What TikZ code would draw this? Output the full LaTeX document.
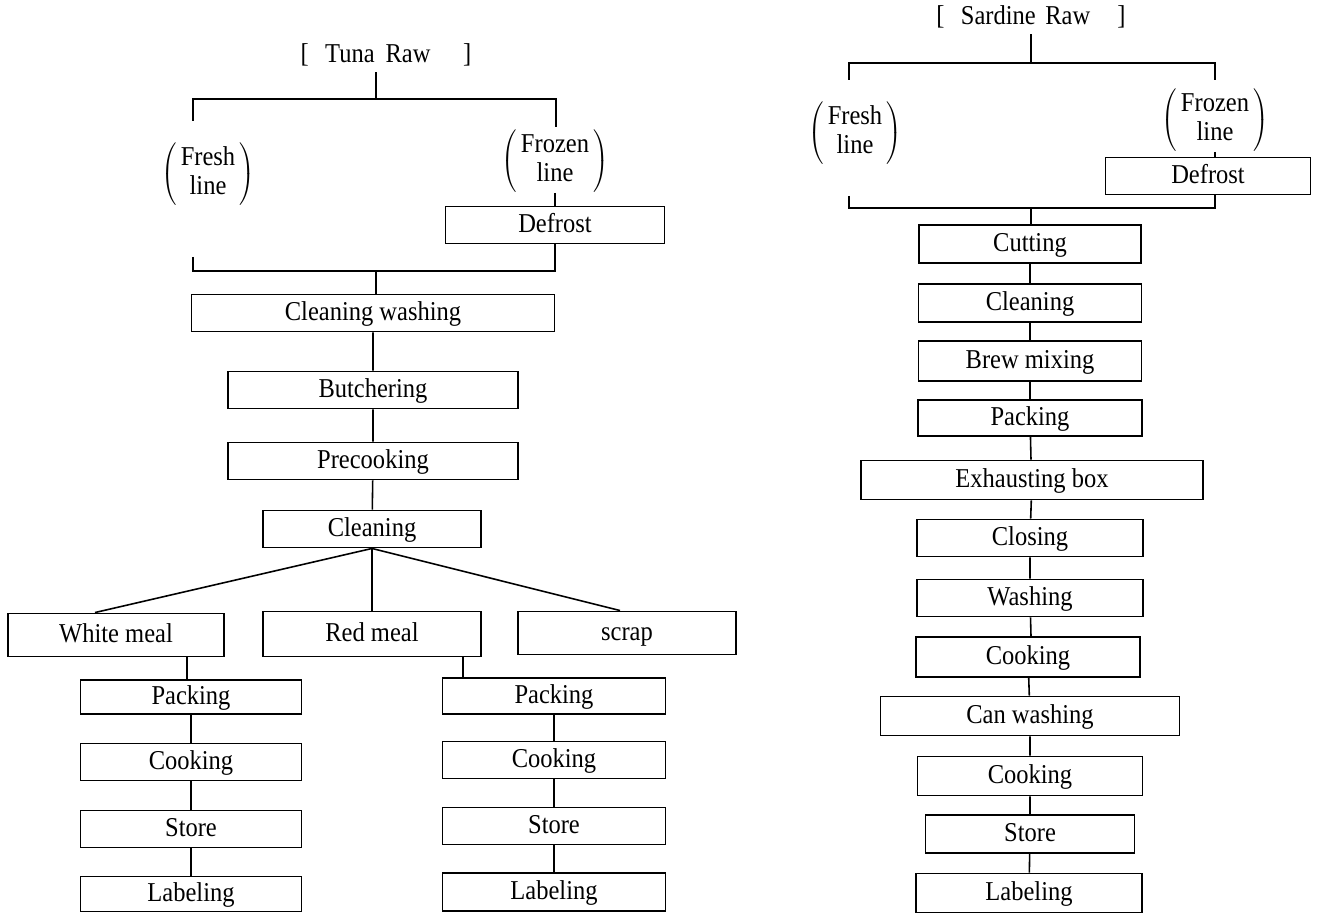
\documentclass[tikz,border=0pt]{standalone}
\usepackage{fontspec}
\setmainfont{Liberation Serif}[FakeStretch=0.9]
\usetikzlibrary{positioning}

\tikzset{
  pbox/.style={draw, line width=1.1pt, minimum width=#1*0.02cm,
    minimum height=0.74cm, inner sep=0pt, text height=0.95em, text depth=0.1em},
  link/.style={line width=0.9pt},
  linetag/.style={inner sep=0pt},
}
\newcommand{\linelabel}[1]{%
  $\left(\vcenter{\hbox{\rule{0pt}{1.2cm}}}\,\begin{tabular}{@{}c@{}}#1\end{tabular}\,\right)$}

\begin{document}
\begin{tikzpicture}[x=0.02cm, y=-0.02cm, font=\fontsize{15.5}{17}\selectfont]
  \useasboundingbox (0,0) rectangle (1318,915);

  % tuna line
  \node (tuna) at (386,55) {[\hspace{0.6em}Tuna\hspace{0.4em}Raw\hspace{1.2em}]};
  \coordinate (ttop) at (376,99);
  \coordinate (tfl) at (193,121);
  \coordinate (tfr) at (556,127);
  \coordinate (tbl) at (193,257);
  \coordinate (tbot) at (376,271);
  \node[linetag] (tfresh) at (208,174) {\linelabel{Fresh\\line}};
  \node[linetag] (tfrozen) at (555,161) {\linelabel{Frozen\\line}};
  \node[pbox=219] (tdefrost) at (555,225) {Defrost};
  \node[pbox=363] (twash) at (373,313) {Cleaning washing};
  \node[pbox=290] (tbutcher) at (373,390) {Butchering};
  \node[pbox=290] (tprecook) at (373,461) {Precooking};
  \node[pbox=218] (tclean) at (372,529) {Cleaning};
  \node[pbox=216, minimum height=0.86cm] (twhite) at (116,635) {White meal};
  \node[pbox=218, minimum height=0.9cm] (tred) at (372,634) {Red meal};
  \node[pbox=218, minimum height=0.86cm] (tscrap) at (627,633) {scrap};
  \node[pbox=221, minimum height=0.68cm] (twpack) at (191,697) {Packing};
  \node[pbox=221] (twcook) at (191,762) {Cooking};
  \node[pbox=221] (twstore) at (191,829) {Store};
  \node[pbox=221, minimum height=0.7cm] (twlabel) at (191,894) {Labeling};
  \node[pbox=223, minimum height=0.72cm] (trpack) at (554,696) {Packing};
  \node[pbox=223] (trcook) at (554,760) {Cooking};
  \node[pbox=223] (trstore) at (554,826) {Store};
  \node[pbox=223, minimum height=0.76cm] (trlabel) at (554,892) {Labeling};
  \coordinate (twout) at (187,657);
  \coordinate (trout) at (463,657);

  \draw[link] (ttop |- tuna.south) -- (ttop);
  \draw[link] (tfl) |- (ttop) -| (tfr);
  \draw[link] (tfrozen.south) -- (tdefrost.north);
  \draw[link] (tbl) |- (tbot) -| (tdefrost.south);
  \draw[link] (tbot) -- (tbot |- twash.north);
  \draw[link] (twash) -- (tbutcher) (tbutcher) -- (tprecook)
    (tprecook) -- (tclean);
  \draw[link] (tclean.south) -- ([xshift=-0.42cm]twhite.north);
  \draw[link] (tclean.south) -- (tred.north);
  \draw[link] (tclean.south) -- ([xshift=-0.14cm]tscrap.north);
  \draw[link] (twout) -- (twout |- twpack.north);
  \draw[link] (twpack) -- (twcook) (twcook) -- (twstore)
    (twstore) -- (twlabel);
  \draw[link] (trout) -- (trout |- trpack.north);
  \draw[link] (trpack) -- (trcook) (trcook) -- (trstore)
    (trstore) -- (trlabel);

  % sardine line
  \node (sardine) at (1031,17) {[\hspace{0.6em}Sardine\hspace{0.35em}Raw\hspace{1em}]};
  \coordinate (stop) at (1031,63);
  \coordinate (sfl) at (849,80);
  \coordinate (sfr) at (1215,80);
  \coordinate (sbl) at (849,196);
  \coordinate (sbot) at (1031,208);
  \node[linetag] (sfresh) at (855,133) {\linelabel{Fresh\\line}};
  \node[linetag] (sfrozen) at (1215,120) {\linelabel{Frozen\\line}};
  \node[pbox=205] (sdefrost) at (1208,176) {Defrost};
  \node[pbox=222, minimum height=0.76cm] (scut) at (1030,244) {Cutting};
  \node[pbox=223, minimum height=0.76cm] (sclean) at (1030,303) {Cleaning};
  \node[pbox=223, minimum height=0.8cm] (sbrew) at (1030,361) {Brew mixing};
  \node[pbox=224, minimum height=0.72cm] (spack) at (1030,418) {Packing};
  \node[pbox=342, minimum height=0.78cm] (sexhaust) at (1032,480) {Exhausting box};
  \node[pbox=226] (sclose) at (1030,538) {Closing};
  \node[pbox=226] (swash) at (1030,598) {Washing};
  \node[pbox=224, minimum height=0.8cm] (scook) at (1028,657) {Cooking};
  \node[pbox=299, minimum height=0.78cm] (scanwash) at (1030,716) {Can washing};
  \node[pbox=225, minimum height=0.78cm] (scook2) at (1030,776) {Cooking};
  \node[pbox=209, minimum height=0.76cm] (sstore) at (1030,834) {Store};
  \node[pbox=226, minimum height=0.78cm] (slabel) at (1029,893) {Labeling};

  \draw[link] (stop |- sardine.south) -- (stop);
  \draw[link] (sfl) |- (stop) -| (sfr);
  \draw[link] (sfrozen.south) -- (sfrozen.south |- sdefrost.north);
  \draw[link] (sbl) |- (sbot) -| (sfr |- sdefrost.south);
  \draw[link] (sbot) -- (sbot |- scut.north);
  \draw[link] (scut) -- (sclean) (sclean) -- (sbrew) (sbrew) -- (spack)
    (spack) -- (sbot |- sexhaust.north) (sexhaust) -- (sclose)
    (sclose) -- (swash) (swash) -- (sbot |- scook.north)
    (scook) -- (scanwash) (scanwash) -- (scook2)
    (scook2) -- (sstore) (sstore) -- (slabel);
\end{tikzpicture}
\end{document}
